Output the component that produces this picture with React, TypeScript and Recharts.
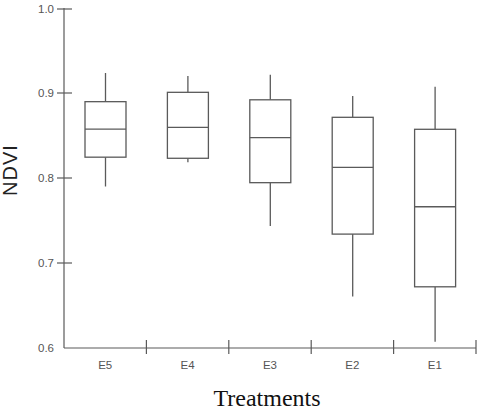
import { ComposedChart, Bar, XAxis, YAxis, Label } from 'recharts';

// box plot stats per treatment
const treatments = ['E5', 'E4', 'E3', 'E2', 'E1'];
const minValues = [0.79, 0.8185, 0.7435, 0.6605, 0.6075];
const q1Values = [0.8245, 0.8232, 0.7945, 0.734, 0.672];
const medianValues = [0.8575, 0.8595, 0.8474, 0.8126, 0.7662];
const q3Values = [0.8898, 0.9008, 0.892, 0.8714, 0.8573];
const maxValues = [0.9235, 0.92, 0.9215, 0.8965, 0.9074];
const yTicks = [0.6, 0.7, 0.8, 0.9, 1.0];

const data = treatments.map((name, i) => ({
  name,
  min: minValues[i],
  q1: q1Values[i],
  median: medianValues[i],
  q3: q3Values[i],
  max: maxValues[i],
  range: [minValues[i], maxValues[i]],
}));

const LINE = '#5a5a5a';
const TEXT = '#555';
const FONT = '"Liberation Sans", Arial, sans-serif';

function BoxShape(props: any) {
  const { x, y, width, height, payload } = props;
  const top = Math.min(y, y + height);
  const bottom = Math.max(y, y + height);
  const span = payload.max - payload.min;
  // map value to pixel using the bar's own scaled extent
  const py = (v: number) => top + ((payload.max - v) / span) * (bottom - top);
  const cx = x + width / 2;
  const yq1 = py(payload.q1);
  const yq3 = py(payload.q3);
  const ymed = py(payload.median);
  return (
    <g stroke={LINE} strokeWidth={1.3} fill="none">
      <line x1={cx} x2={cx} y1={top} y2={yq3} />
      <line x1={cx} x2={cx} y1={yq1} y2={bottom} />
      <rect x={x} y={yq3} width={width} height={yq1 - yq3} fill="#fff" />
      <line x1={x} x2={x + width} y1={ymed} y2={ymed} />
    </g>
  );
}

function YTick(props: any) {
  const { x, y, payload } = props;
  return (
    <g>
      {payload.value !== 0.6 && (
        <line x1={x - 7} x2={x + 8} y1={y} y2={y} stroke={LINE} strokeWidth={1.2} />
      )}
      <text x={x - 10} y={y} dy={4} textAnchor="end" fill={TEXT} fontSize={11.5} fontFamily={FONT}>
        {payload.value.toFixed(1)}
      </text>
    </g>
  );
}

function XTick(props: any) {
  const { x, y, payload } = props;
  const half = payload.offset ?? 41.2;
  return (
    <g>
      <line x1={x + half} x2={x + half} y1={y - 8} y2={y + 6} stroke={LINE} strokeWidth={1.2} />
      <text x={x} y={y + 21} textAnchor="middle" fill={TEXT} fontSize={11.5} fontFamily={FONT}>
        {payload.value}
      </text>
    </g>
  );
}

export default function App() {
  return (
    <div style={{ position: 'absolute', left: 0, top: 0, background: '#fff' }}>
      <ComposedChart
        width={483}
        height={410}
        data={data}
        margin={{ top: 8, right: 7, bottom: 0, left: 0 }}
      >
        <XAxis
          dataKey="name"
          height={62}
          axisLine={{ stroke: LINE, strokeWidth: 1.2 }}
          tickLine={false}
          tickSize={0}
          tickMargin={0}
          tick={<XTick />}
          interval={0}
        >
          <Label
            content={(p: any) => {
              const vb = p.viewBox;
              return (
                <text
                  x={vb.x + vb.width / 2 - 3}
                  y={vb.y + vb.height - 4}
                  textAnchor="middle"
                  fill="#111"
                  fontSize={24}
                  fontFamily='"Liberation Serif", "Times New Roman", serif'
                >
                  Treatments
                </text>
              );
            }}
          />
        </XAxis>
        <YAxis
          width={64}
          domain={[0.6, 1.0]}
          ticks={yTicks}
          type="number"
          axisLine={{ stroke: LINE, strokeWidth: 1.2 }}
          tickLine={false}
          tickSize={0}
          tickMargin={0}
          tick={<YTick />}
        >
          <Label
            content={(p: any) => {
              const vb = p.viewBox;
              const cy = vb.y + vb.height / 2 - 8;
              return (
                <text
                  x={vb.x + 17}
                  y={cy}
                  transform={`rotate(-90, ${vb.x + 17}, ${cy})`}
                  textAnchor="middle"
                  fill="#222"
                  fontSize={20}
                  letterSpacing={1}
                  fontFamily={FONT}
                >
                  NDVI
                </text>
              );
            }}
          />
        </YAxis>
        <Bar dataKey="range" barSize={41} shape={<BoxShape />} isAnimationActive={false} />
      </ComposedChart>
    </div>
  );
}
